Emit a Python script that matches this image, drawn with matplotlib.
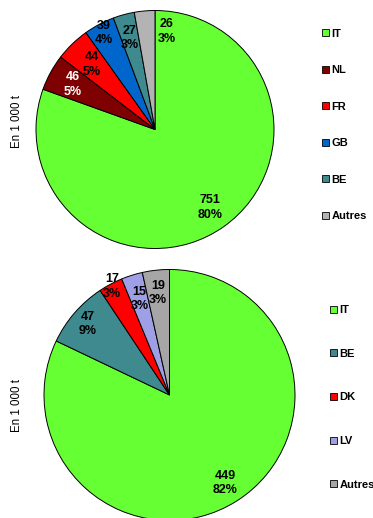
import matplotlib
matplotlib.use("Agg")
import matplotlib.pyplot as plt
from matplotlib.patches import Patch
import numpy as np

plt.rcParams['font.family'] = ['Liberation Sans', 'DejaVu Sans']

# donnees (en 1 000 t)
top_labels = ['IT', 'NL', 'FR', 'GB', 'BE', 'Autres']
top_values = [751, 46, 44, 39, 27, 26]
bottom_labels = ['IT', 'BE', 'DK', 'LV', 'Autres']
bottom_values = [449, 47, 17, 15, 19]

top_colors = ['#66FF33', '#7F0000', '#FF0000', '#0066CC', '#3F8A8F', '#B3B3B3']
bottom_colors = ['#66FF33', '#3F8A8F', '#FF0000', '#9F9FE6', '#A6A6A6']

W, H = 373, 518
fig = plt.figure(figsize=(W / 100, H / 100), dpi=100)


def draw(cx, cy, r, values, labels, colors, txtcolors, dists, shifts,
         leg_x, leg_y, spacing, ylab_y):
    ax = fig.add_axes([(cx - r) / W, 1 - (cy + r) / H, 2 * r / W, 2 * r / H])
    wedges, _ = ax.pie(values, colors=colors, startangle=90, counterclock=False,
                       wedgeprops=dict(edgecolor='black', linewidth=0.7))
    total = sum(values)
    for w, v, tc, d, s in zip(wedges, values, txtcolors, dists, shifts):
        ang = np.radians((w.theta1 + w.theta2) / 2 + s)
        ax.text(d * np.cos(ang), d * np.sin(ang),
                f"{v}\n{round(100 * v / total)}%",
                ha='center', va='center', fontsize=9, fontweight='bold',
                color=tc, linespacing=1.25)
    ax.set_xlim(-1, 1)
    ax.set_ylim(-1, 1)
    ax.set_aspect('auto')

    handles = [Patch(facecolor=c, edgecolor='black', linewidth=0.6) for c in colors]
    fig.legend(handles, labels, loc='upper left',
               bbox_to_anchor=(leg_x / W, 1 - leg_y / H),
               frameon=False, borderpad=0, borderaxespad=0,
               handlelength=0.6, handleheight=0.6, handletextpad=0.25,
               labelspacing=spacing, prop=dict(size=8, weight='bold'))

    fig.text(17 / W, 1 - ylab_y / H, 'En 1 000 t', rotation=90,
             ha='center', va='center', fontsize=8.3)


draw(155, 129.5, 119, top_values, top_labels, top_colors,
     ['black', 'white', 'black', 'black', 'black', 'black'],
     [0.8, 0.79, 0.76, 0.92, 0.8, 0.83],
     [0, 0, 0, 0, 0, -12],
     322, 28.5, 2.39, 121.5)

draw(169.5, 395, 125.5, bottom_values, bottom_labels, bottom_colors,
     ['black'] * 5,
     [0.83, 0.86, 0.98, 0.8, 0.82],
     [0, 0, 0, 0, 0],
     330, 305, 3.03, 405)

fig.savefig('out.png', dpi=100)
